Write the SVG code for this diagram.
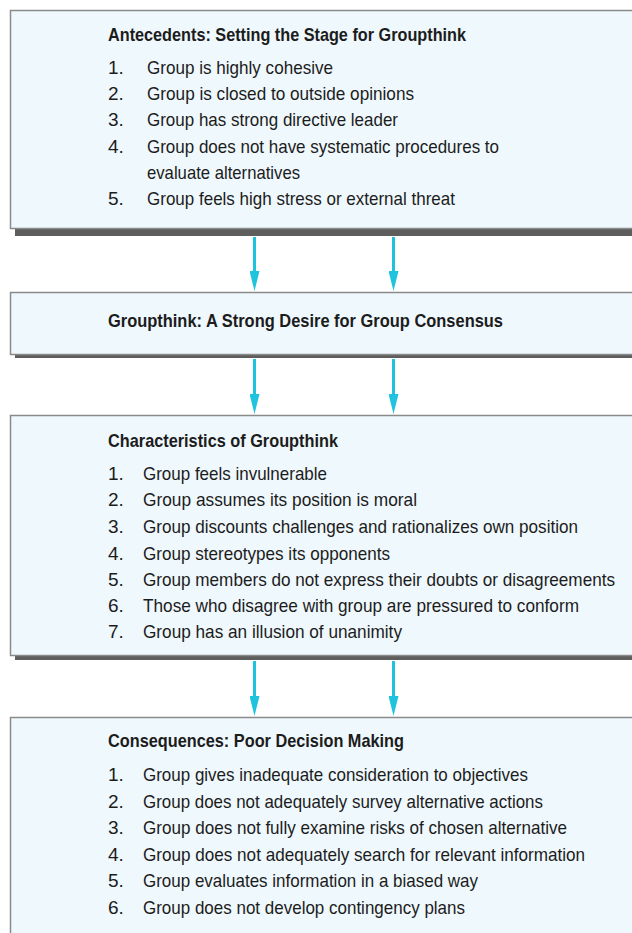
<svg xmlns="http://www.w3.org/2000/svg" width="632" height="933" viewBox="0 0 632 933">
<style>
.box{fill:#eff8fc;stroke:#8a8a8a;stroke-width:1.5}
.shadow{fill:#5e5e5e}
.t{font-family:"Liberation Sans",Arial,sans-serif;font-size:19px;fill:#1c1c1c}
.b{font-weight:bold}
.arr{stroke:#1fc3de;stroke-width:3;fill:none}
</style>
<defs>
<marker id="ah" markerUnits="userSpaceOnUse" viewBox="0 0 20 10" refX="10" refY="5" markerWidth="20" markerHeight="10" orient="auto">
<path d="M0,0 L20,5 L0,10 z" fill="#1fc3de"/>
</marker>
</defs>
<rect width="632" height="933" fill="#ffffff"/>

<g id="antecedents">
<rect class="shadow" x="15" y="17" width="640" height="219"/>
<rect class="box" x="10.5" y="10.5" width="640" height="218"/>
<text class="t b" x="108" y="41" textLength="358" lengthAdjust="spacingAndGlyphs">Antecedents: Setting the Stage for Groupthink</text>
<text class="t" x="108" y="74">1.</text>
<text class="t" x="147" y="74" textLength="186" lengthAdjust="spacingAndGlyphs">Group is highly cohesive</text>
<text class="t" x="108" y="100">2.</text>
<text class="t" x="147" y="100" textLength="267" lengthAdjust="spacingAndGlyphs">Group is closed to outside opinions</text>
<text class="t" x="108" y="126">3.</text>
<text class="t" x="147" y="126" textLength="251" lengthAdjust="spacingAndGlyphs">Group has strong directive leader</text>
<text class="t" x="108" y="153">4.</text>
<text class="t" x="147" y="153" textLength="352" lengthAdjust="spacingAndGlyphs">Group does not have systematic procedures to</text>
<text class="t" x="147" y="179" textLength="153" lengthAdjust="spacingAndGlyphs">evaluate alternatives</text>
<text class="t" x="108" y="205">5.</text>
<text class="t" x="147" y="205" textLength="308" lengthAdjust="spacingAndGlyphs">Group feels high stress or external threat</text>
</g>

<g id="groupthink">
<rect class="shadow" x="15" y="299" width="640" height="59"/>
<rect class="box" x="10.5" y="292.5" width="640" height="62"/>
<text class="t b" x="108" y="327" textLength="395" lengthAdjust="spacingAndGlyphs">Groupthink: A Strong Desire for Group Consensus</text>
</g>

<g id="characteristics">
<rect class="shadow" x="15" y="422" width="640" height="238"/>
<rect class="box" x="10.5" y="415.5" width="640" height="240"/>
<text class="t b" x="108" y="447" textLength="230" lengthAdjust="spacingAndGlyphs">Characteristics of Groupthink</text>
<text class="t" x="108" y="480">1.</text>
<text class="t" x="143" y="480" textLength="184" lengthAdjust="spacingAndGlyphs">Group feels invulnerable</text>
<text class="t" x="108" y="506">2.</text>
<text class="t" x="143" y="506" textLength="274" lengthAdjust="spacingAndGlyphs">Group assumes its position is moral</text>
<text class="t" x="108" y="533">3.</text>
<text class="t" x="143" y="533" textLength="435" lengthAdjust="spacingAndGlyphs">Group discounts challenges and rationalizes own position</text>
<text class="t" x="108" y="560">4.</text>
<text class="t" x="143" y="560" textLength="247" lengthAdjust="spacingAndGlyphs">Group stereotypes its opponents</text>
<text class="t" x="108" y="586">5.</text>
<text class="t" x="143" y="586" textLength="472" lengthAdjust="spacingAndGlyphs">Group members do not express their doubts or disagreements</text>
<text class="t" x="108" y="612">6.</text>
<text class="t" x="143" y="612" textLength="436" lengthAdjust="spacingAndGlyphs">Those who disagree with group are pressured to conform</text>
<text class="t" x="108" y="638">7.</text>
<text class="t" x="143" y="638" textLength="259" lengthAdjust="spacingAndGlyphs">Group has an illusion of unanimity</text>
</g>

<g id="consequences">
<rect class="box" x="10.5" y="717.5" width="640" height="240"/>
<text class="t b" x="108" y="747" textLength="296" lengthAdjust="spacingAndGlyphs">Consequences: Poor Decision Making</text>
<text class="t" x="108" y="781">1.</text>
<text class="t" x="143" y="781" textLength="385" lengthAdjust="spacingAndGlyphs">Group gives inadequate consideration to objectives</text>
<text class="t" x="108" y="808">2.</text>
<text class="t" x="143" y="808" textLength="400" lengthAdjust="spacingAndGlyphs">Group does not adequately survey alternative actions</text>
<text class="t" x="108" y="834">3.</text>
<text class="t" x="143" y="834" textLength="424" lengthAdjust="spacingAndGlyphs">Group does not fully examine risks of chosen alternative</text>
<text class="t" x="108" y="861">4.</text>
<text class="t" x="143" y="861" textLength="442" lengthAdjust="spacingAndGlyphs">Group does not adequately search for relevant information</text>
<text class="t" x="108" y="887">5.</text>
<text class="t" x="143" y="887" textLength="335" lengthAdjust="spacingAndGlyphs">Group evaluates information in a biased way</text>
<text class="t" x="108" y="914">6.</text>
<text class="t" x="143" y="914" textLength="322" lengthAdjust="spacingAndGlyphs">Group does not develop contingency plans</text>
</g>

<g id="connectors">
<line class="arr" x1="254.5" y1="237" x2="254.5" y2="281" marker-end="url(#ah)"/>
<line class="arr" x1="393.5" y1="237" x2="393.5" y2="281" marker-end="url(#ah)"/>
<line class="arr" x1="254.5" y1="359" x2="254.5" y2="404" marker-end="url(#ah)"/>
<line class="arr" x1="393.5" y1="359" x2="393.5" y2="404" marker-end="url(#ah)"/>
<line class="arr" x1="254.5" y1="661" x2="254.5" y2="706" marker-end="url(#ah)"/>
<line class="arr" x1="393.5" y1="661" x2="393.5" y2="706" marker-end="url(#ah)"/>
</g>
</svg>
